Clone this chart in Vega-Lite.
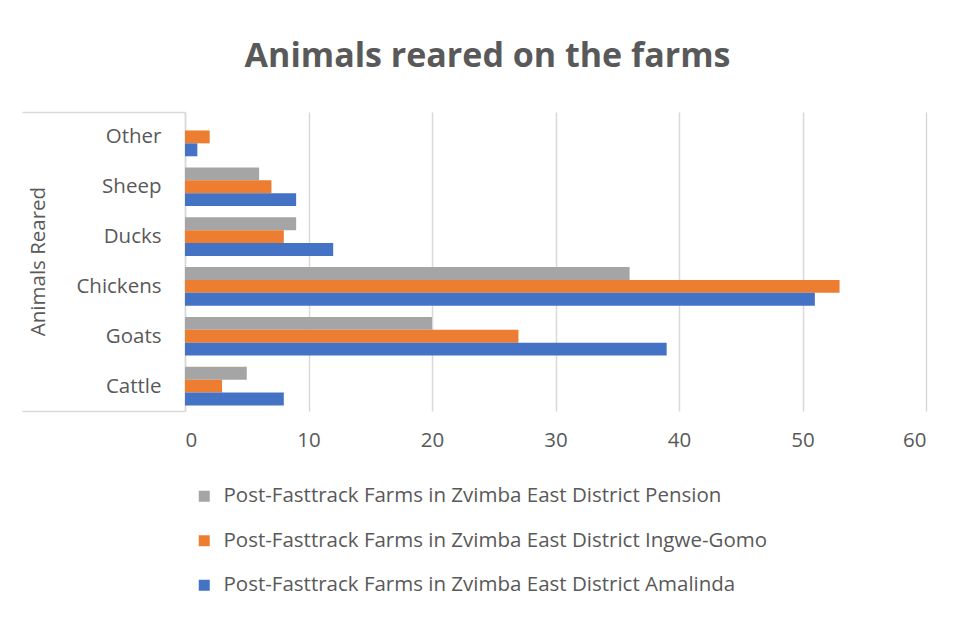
{
  "$schema": "https://vega.github.io/schema/vega-lite/v6.json",
  "width": 741,
  "height": 299,
  "autosize": {"type": "none"},
  "padding": {"left": 185, "top": 112, "right": 30, "bottom": 206},
  "background": "white",
  "title": {
    "text": "Animals reared on the farms",
    "font": "Open Sans",
    "fontSize": 34,
    "fontWeight": "bold",
    "color": "#595959",
    "anchor": "middle",
    "dx": -68,
    "offset": 28
  },
  "data": {
    "values": [
      {"animal": "Other", "series": "Post-Fasttrack Farms in Zvimba East District Pension", "count": 0},
      {"animal": "Other", "series": "Post-Fasttrack Farms in Zvimba East District Ingwe-Gomo", "count": 2},
      {"animal": "Other", "series": "Post-Fasttrack Farms in Zvimba East District Amalinda", "count": 1},
      {"animal": "Sheep", "series": "Post-Fasttrack Farms in Zvimba East District Pension", "count": 6},
      {"animal": "Sheep", "series": "Post-Fasttrack Farms in Zvimba East District Ingwe-Gomo", "count": 7},
      {"animal": "Sheep", "series": "Post-Fasttrack Farms in Zvimba East District Amalinda", "count": 9},
      {"animal": "Ducks", "series": "Post-Fasttrack Farms in Zvimba East District Pension", "count": 9},
      {"animal": "Ducks", "series": "Post-Fasttrack Farms in Zvimba East District Ingwe-Gomo", "count": 8},
      {"animal": "Ducks", "series": "Post-Fasttrack Farms in Zvimba East District Amalinda", "count": 12},
      {"animal": "Chickens", "series": "Post-Fasttrack Farms in Zvimba East District Pension", "count": 36},
      {"animal": "Chickens", "series": "Post-Fasttrack Farms in Zvimba East District Ingwe-Gomo", "count": 53},
      {"animal": "Chickens", "series": "Post-Fasttrack Farms in Zvimba East District Amalinda", "count": 51},
      {"animal": "Goats", "series": "Post-Fasttrack Farms in Zvimba East District Pension", "count": 20},
      {"animal": "Goats", "series": "Post-Fasttrack Farms in Zvimba East District Ingwe-Gomo", "count": 27},
      {"animal": "Goats", "series": "Post-Fasttrack Farms in Zvimba East District Amalinda", "count": 39},
      {"animal": "Cattle", "series": "Post-Fasttrack Farms in Zvimba East District Pension", "count": 5},
      {"animal": "Cattle", "series": "Post-Fasttrack Farms in Zvimba East District Ingwe-Gomo", "count": 3},
      {"animal": "Cattle", "series": "Post-Fasttrack Farms in Zvimba East District Amalinda", "count": 8}
    ]
  },
  "mark": {"type": "bar"},
  "encoding": {
    "x": {
      "field": "count",
      "type": "quantitative",
      "scale": {"domain": [0, 60]},
      "axis": {
        "title": null,
        "values": [0, 10, 20, 30, 40, 50, 60],
        "labelFont": "Open Sans",
        "labelFontSize": 20.5,
        "labelColor": "#595959",
        "labelPadding": 19,
        "ticks": false,
        "domain": false,
        "grid": true,
        "gridColor": "#d9d9d9",
        "gridWidth": 1.5
      }
    },
    "y": {
      "field": "animal",
      "type": "nominal",
      "sort": ["Other", "Sheep", "Ducks", "Chickens", "Goats", "Cattle"],
      "scale": {"paddingInner": 0, "paddingOuter": 0},
      "axis": {
        "title": "Animals Reared",
        "titleFont": "Open Sans",
        "titleFontSize": 20.5,
        "titleFontWeight": "normal",
        "titleColor": "#595959",
        "titleX": -137,
        "titleY": 149,
        "labelFont": "Open Sans",
        "labelFontSize": 20.5,
        "labelColor": "#595959",
        "ticks": true,
        "tickBand": "extent",
        "tickSize": 163,
        "tickColor": "#d9d9d9",
        "tickWidth": 1.5,
        "tickOpacity": {"condition": {"test": "datum.extra || datum.value === 'Cattle'", "value": 1}, "value": 0},
        "labelPadding": -139,
        "domainColor": "#d9d9d9",
        "domainWidth": 1.5,
        "grid": false
      }
    },
    "yOffset": {
      "field": "series",
      "type": "nominal",
      "sort": [
        "Post-Fasttrack Farms in Zvimba East District Pension",
        "Post-Fasttrack Farms in Zvimba East District Ingwe-Gomo",
        "Post-Fasttrack Farms in Zvimba East District Amalinda"
      ],
      "scale": {"paddingInner": 0, "paddingOuter": 0.43}
    },
    "color": {
      "field": "series",
      "type": "nominal",
      "sort": [
        "Post-Fasttrack Farms in Zvimba East District Pension",
        "Post-Fasttrack Farms in Zvimba East District Ingwe-Gomo",
        "Post-Fasttrack Farms in Zvimba East District Amalinda"
      ],
      "scale": {
        "domain": [
          "Post-Fasttrack Farms in Zvimba East District Pension",
          "Post-Fasttrack Farms in Zvimba East District Ingwe-Gomo",
          "Post-Fasttrack Farms in Zvimba East District Amalinda"
        ],
        "range": ["#A5A5A5", "#ED7D31", "#4472C4"]
      },
      "legend": {
        "title": null,
        "orient": "none",
        "legendX": 9,
        "legendY": 374,
        "direction": "vertical",
        "symbolType": "square",
        "symbolSize": 121,
        "symbolStrokeWidth": 0,
        "labelFont": "Open Sans",
        "labelFontSize": 20.5,
        "labelColor": "#595959",
        "labelOffset": 9,
        "labelLimit": 700,
        "rowPadding": 23.5
      }
    }
  },
  "config": {"view": {"stroke": null}}
}
